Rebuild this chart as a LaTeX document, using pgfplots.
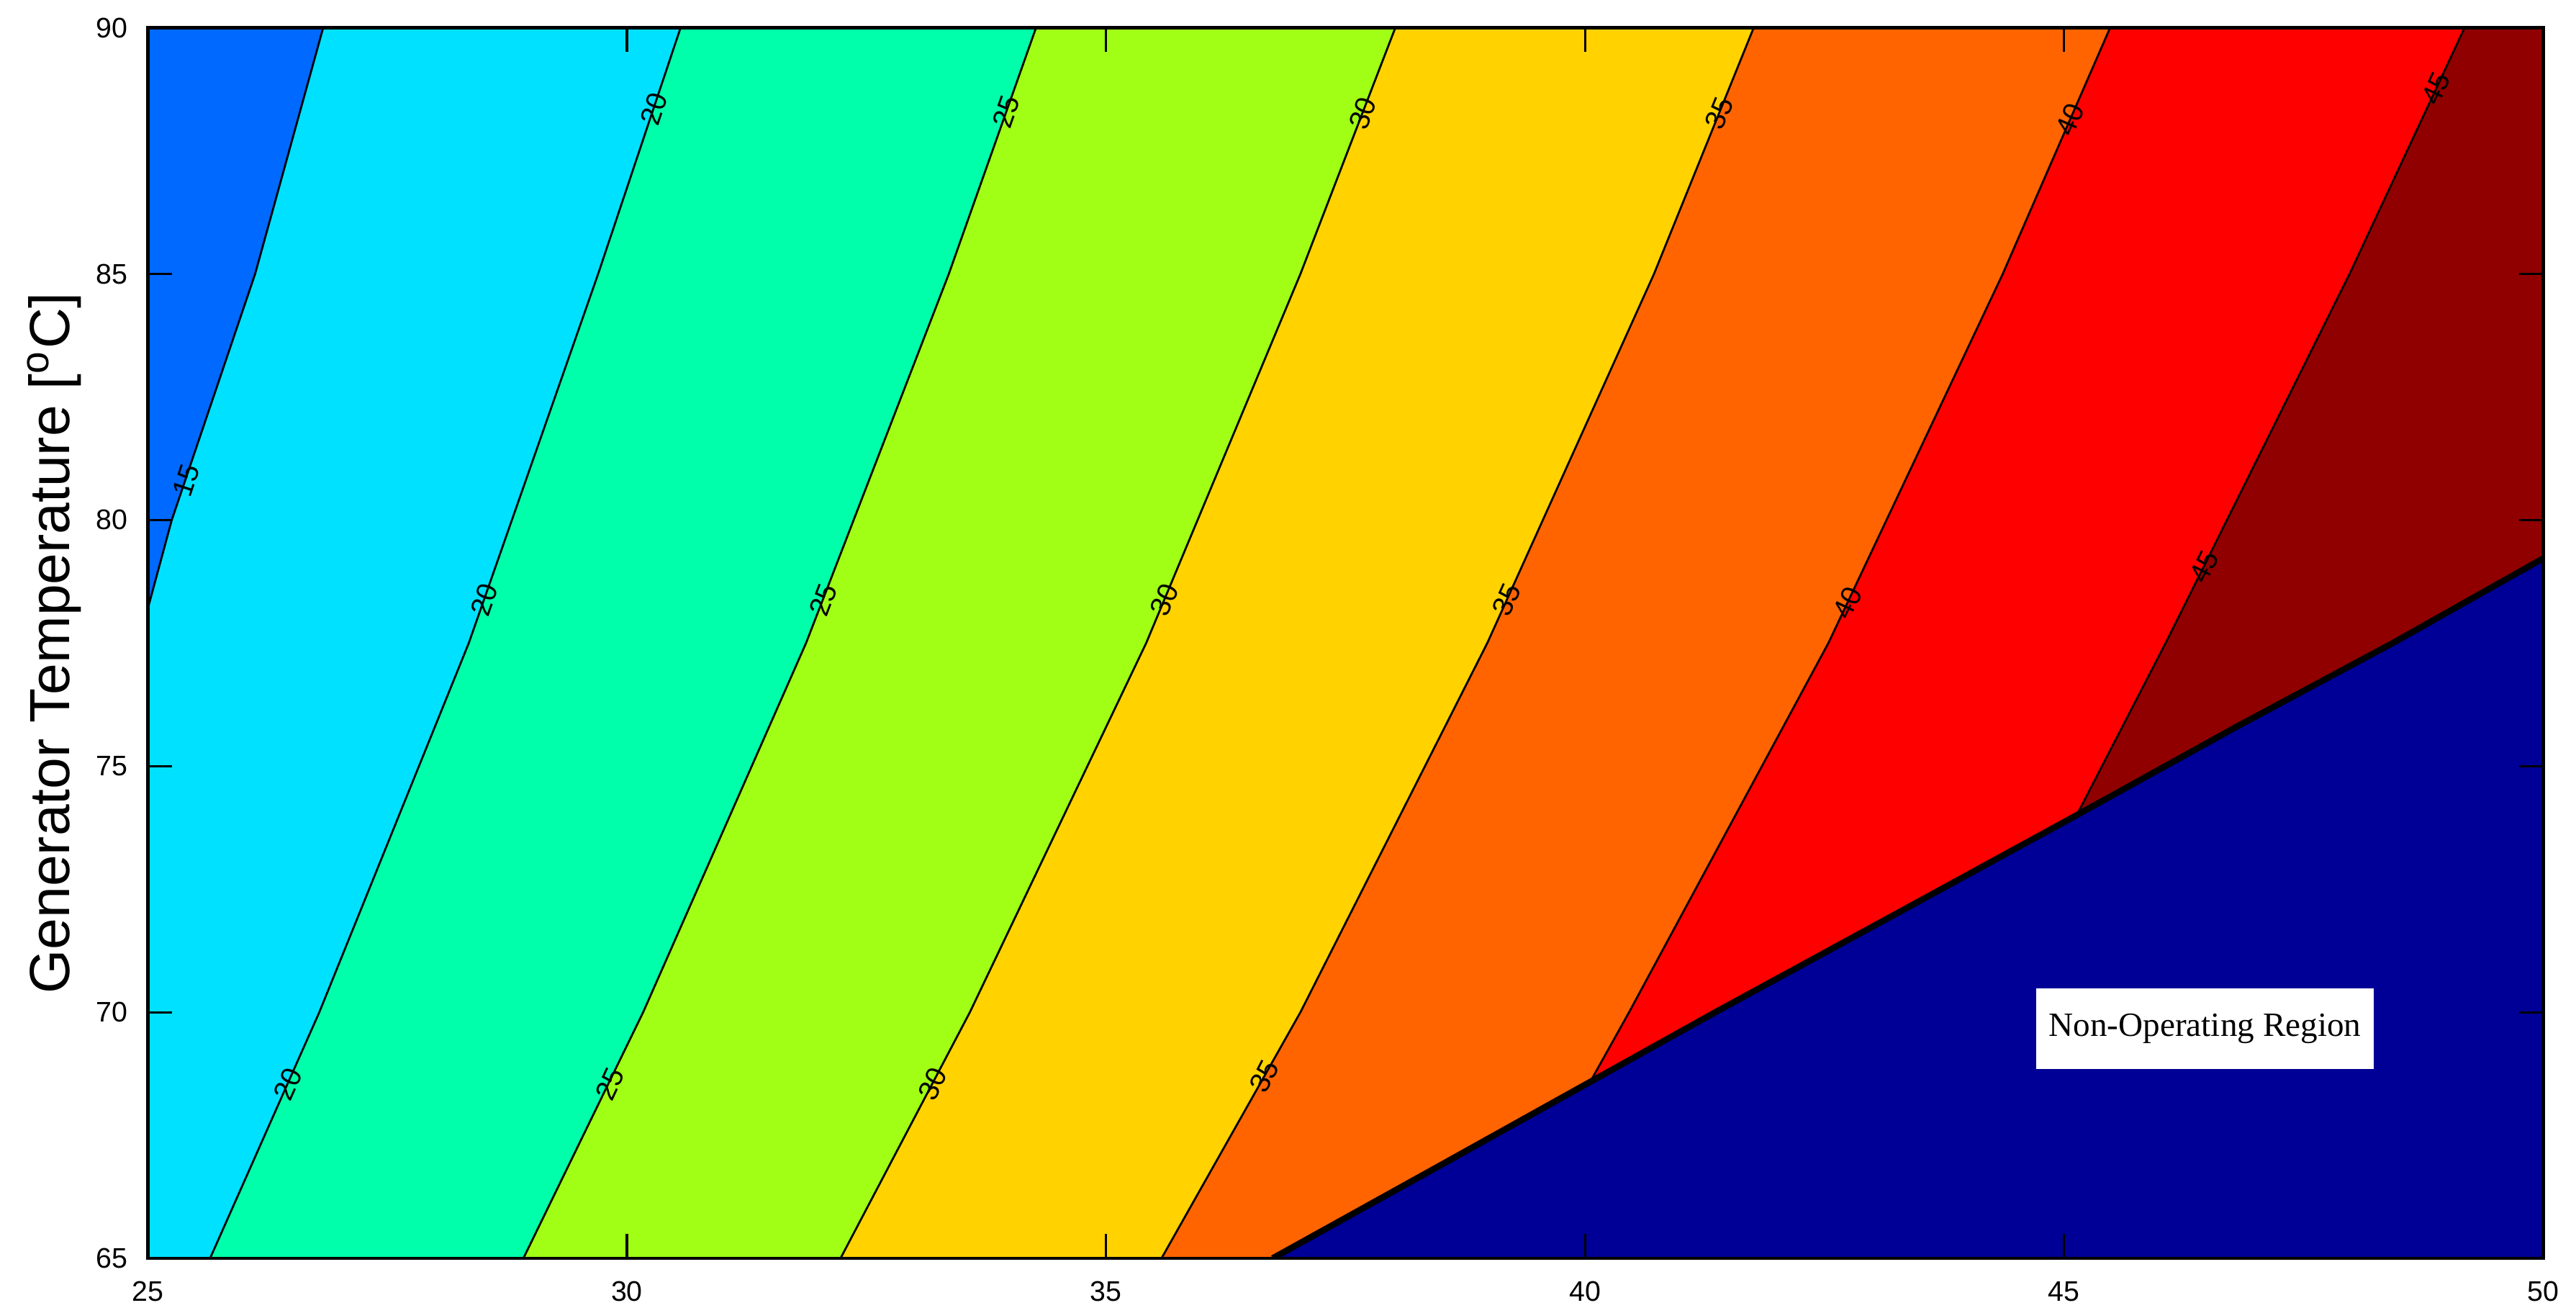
\documentclass[border=0pt]{standalone}
\usepackage{pgfplots}
\pgfplotsset{compat=1.18}
\usepackage{fontspec}
\setmainfont{Liberation Sans}
\newfontfamily\timesfont{Liberation Serif}

\definecolor{cA}{RGB}{0,105,255}
\definecolor{cB}{RGB}{0,225,255}
\definecolor{cC}{RGB}{0,255,170}
\definecolor{cD}{RGB}{160,255,20}
\definecolor{cE}{RGB}{255,210,0}
\definecolor{cF}{RGB}{255,100,0}
\definecolor{cG}{RGB}{255,0,0}
\definecolor{cH}{RGB}{145,0,0}
\definecolor{cN}{RGB}{0,0,150}

\begin{document}
\begin{tikzpicture}
\useasboundingbox (-0.918,-0.306) rectangle (15.079,7.813);
\begin{axis}[
    width=14.875cm, height=7.64cm, scale only axis,
    xmin=25, xmax=50, ymin=65, ymax=90,
    xtick={25,30,...,50}, ytick={65,70,...,90},
    tick align=inside, major tick length=0.15cm,
    tick style={black, line width=0.4pt},
    axis line style={black, line width=0.6pt},
    axis on top,
    ticklabel style={font=\fontsize{5}{6}\selectfont},
    /pgf/number format/assume math mode=true,
    xticklabel style={yshift=-0.02cm},
    ylabel={Generator Temperature [\textsuperscript{o}C]},
    ylabel style={at={(axis description cs:-0.039,0.5)}, anchor=center, font=\fontsize{10}{12}\selectfont},
    clip=true,
]
% background region (below 15)
\addplot[fill=cA, draw=none] coordinates {(25,65) (50,65) (50,90) (25,90)} -- cycle;
% regions to the right of each contour
\addplot[fill=cB, draw=none] coordinates {(26.83,90) (26.12,85) (25.25,80) (25,78.2) (25,65) (50,65) (50,90)} -- cycle;
\addplot[fill=cC, draw=none] coordinates {(30.56,90) (29.70,85) (28.35,77.5) (26.79,70) (25.65,65) (50,65) (50,90)} -- cycle;
\addplot[fill=cD, draw=none] coordinates {(34.27,90) (33.36,85) (31.87,77.5) (30.17,70) (28.92,65) (50,65) (50,90)} -- cycle;
\addplot[fill=cE, draw=none] coordinates {(38.02,90) (37.03,85) (35.42,77.5) (33.58,70) (32.23,65) (50,65) (50,90)} -- cycle;
\addplot[fill=cF, draw=none] coordinates {(41.76,90) (40.72,85) (38.98,77.5) (37.03,70) (35.58,65) (50,65) (50,90)} -- cycle;
\addplot[fill=cG, draw=none] coordinates {(45.48,90) (44.36,85) (42.54,77.5) (40.46,70) (39.6,67) (50,65) (50,90)} -- cycle;
\addplot[fill=cH, draw=none] coordinates {(49.18,90) (47.98,85) (46.06,77.5) (44.6,72) (50,65) (50,90)} -- cycle;

% contour lines
\addplot[black, line width=0.35pt] coordinates {(26.83,90) (26.12,85) (25.25,80) (25,78.2)};
\addplot[black, line width=0.35pt] coordinates {(30.56,90) (29.70,85) (28.35,77.5) (26.79,70) (25.65,65)};
\addplot[black, line width=0.35pt] coordinates {(34.27,90) (33.36,85) (31.87,77.5) (30.17,70) (28.92,65)};
\addplot[black, line width=0.35pt] coordinates {(38.02,90) (37.03,85) (35.42,77.5) (33.58,70) (32.23,65)};
\addplot[black, line width=0.35pt] coordinates {(41.76,90) (40.72,85) (38.98,77.5) (37.03,70) (35.58,65)};
\addplot[black, line width=0.35pt] coordinates {(45.48,90) (44.36,85) (42.54,77.5) (40.46,70) (39.6,67)};
\addplot[black, line width=0.35pt] coordinates {(49.18,90) (47.98,85) (46.06,77.5) (44.6,72)};

% non-operating region
\addplot[fill=cN, draw=none] coordinates {(36.74,65) (38.5,66.9) (40.05,68.58) (41.36,70) (43.2,71.95) (45.1,73.97) (46.8,75.8) (48.43,77.5) (50,79.22) (50,65)} -- cycle;
\addplot[black, line width=1.1pt] coordinates {(36.74,65) (38.5,66.9) (40.05,68.58) (41.36,70) (43.2,71.95) (45.1,73.97) (46.8,75.8) (48.43,77.5) (50,79.22)};

% contour labels
\begin{scope}[every node/.style={font=\fontsize{5}{6}\selectfont, inner sep=0pt}]
\node[rotate=71.7] at (axis cs:25.40,80.8) {15};
\node[rotate=71.6] at (axis cs:30.28,88.35) {20};
\node[rotate=70.7] at (axis cs:28.51,78.38) {20};
\node[rotate=66.1] at (axis cs:26.46,68.54) {20};
\node[rotate=70.5] at (axis cs:33.96,88.30) {25};
\node[rotate=68.9] at (axis cs:32.05,78.38) {25};
\node[rotate=65.0] at (axis cs:29.82,68.54) {25};
\node[rotate=69.0] at (axis cs:37.68,88.26) {30};
\node[rotate=67.4] at (axis cs:35.61,78.38) {30};
\node[rotate=63.6] at (axis cs:33.19,68.54) {30};
\node[rotate=68.0] at (axis cs:41.40,88.26) {35};
\node[rotate=65.8] at (axis cs:39.18,78.38) {35};
\node[rotate=62.6] at (axis cs:36.65,68.70) {35};
\node[rotate=66.6] at (axis cs:45.06,88.13) {40};
\node[rotate=64.7] at (axis cs:42.74,78.32) {40};
\node[rotate=65.0] at (axis cs:48.88,88.77) {45};
\node[rotate=63.6] at (axis cs:46.46,79.05) {45};
\end{scope}

\node[fill=white, minimum width=2.1cm, minimum height=0.5cm, inner sep=0pt,
      font=\timesfont\fontsize{6}{7}\selectfont] at (axis cs:46.47,69.66) {Non-Operating Region};
\end{axis}
\end{tikzpicture}
\end{document}
